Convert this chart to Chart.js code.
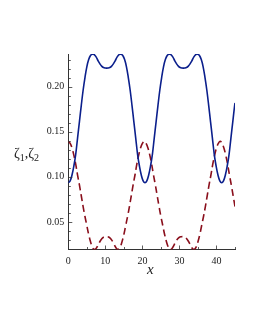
<!DOCTYPE html>
<html>
<head>
<meta charset="utf-8">
<script src="https://cdn.jsdelivr.net/npm/chart.js@4/dist/chart.umd.min.js"></script>
<style>
  html, body { margin: 0; padding: 0; background: #fff; }
  #wrap { position: relative; width: 255px; height: 330px; }
  canvas { position: absolute; left: 0; top: 0; }
  .lbl { position: absolute; font-family: "Liberation Serif", "DejaVu Serif", serif; color: #222; white-space: nowrap; }
  #ylab { left: 14px; top: 146px; font-size: 14px; }
  #ylab sub { font-size: 10px; vertical-align: -3px; line-height: 0; }
  #xlab { left: 147px; top: 261px; font-size: 15px; font-style: italic; }
</style>
</head>
<body>
<div id="wrap">
  <canvas id="c" width="255" height="330"></canvas>
  <div class="lbl" id="ylab">ζ<sub>1</sub>,ζ<sub>2</sub></div>
  <div class="lbl" id="xlab">x</div>
</div>
<script>
// zeta_1 (solid blue) sample positions and values
const xBlue = [0,0.5,1,1.5,2,2.5,3,3.5,4,4.5,5,5.5,6,6.5,7,7.5,8,8.5,9,9.5,10,10.35,
  10.7,11.2,11.7,12.2,12.7,13.2,13.7,14.2,14.7,15.2,15.7,16.2,16.7,17.2,17.7,18.2,18.7,19.2,19.7,20.2,20.7,
  21.2,21.7,22.2,22.7,23.2,23.7,24.2,24.7,25.2,25.7,26.2,26.7,27.2,27.7,28.2,28.7,29.2,29.7,30.2,30.7,31.05,
  31.4,31.9,32.4,32.9,33.4,33.9,34.4,34.9,35.4,35.9,36.4,36.9,37.4,37.9,38.4,38.9,39.4,39.9,40.4,40.9,41.4,
  41.9,42.4,42.9,43.4,43.9,44.4,44.9,45];
const zeta1 = [0.0934,0.0955,0.102,0.112,0.125,0.143,0.161,0.179,0.196,0.210,0.222,0.230,0.2345,0.236,0.2355,0.233,0.229,0.2255,0.2228,0.2212,0.2206,0.2205,
  0.2206,0.2212,0.2228,0.2255,0.229,0.233,0.2355,0.236,0.2345,0.230,0.222,0.210,0.196,0.179,0.161,0.143,0.125,0.112,0.102,0.0955,0.0934,
  0.0955,0.102,0.112,0.125,0.143,0.161,0.179,0.196,0.210,0.222,0.230,0.2345,0.236,0.2355,0.233,0.229,0.2255,0.2228,0.2212,0.2206,0.2205,
  0.2206,0.2212,0.2228,0.2255,0.229,0.233,0.2355,0.236,0.2345,0.230,0.222,0.210,0.196,0.179,0.161,0.143,0.125,0.112,0.102,0.0955,0.0934,
  0.0955,0.102,0.112,0.125,0.143,0.161,0.179,0.182];

// zeta_2 (dashed red) sample positions and values
const xRed = [0,0.5,1,1.5,2,2.5,3,3.5,4,4.5,5,5.5,6,6.5,7,7.5,8,8.5,9,9.5,10,10.25,
  10.5,11,11.5,12,12.5,13,13.5,14,14.5,15,15.5,16,16.5,17,17.5,18,18.5,19,19.5,20,20.5,
  21,21.5,22,22.5,23,23.5,24,24.5,25,25.5,26,26.5,27,27.5,28,28.5,29,29.5,30,30.5,30.75,
  31,31.5,32,32.5,33,33.5,34,34.5,35,35.5,36,36.5,37,37.5,38,38.5,39,39.5,40,40.5,41,
  41.5,42,42.5,43,43.5,44,44.5,45];
const zeta2 = [0.1395,0.137,0.132,0.124,0.114,0.102,0.091,0.079,0.067,0.056,0.046,0.036,0.028,0.022,0.0195,0.0205,0.024,0.028,0.031,0.033,0.0336,0.0337,
  0.0336,0.033,0.031,0.028,0.024,0.0205,0.0195,0.022,0.028,0.036,0.046,0.056,0.067,0.079,0.091,0.102,0.114,0.124,0.132,0.137,0.1395,
  0.137,0.132,0.124,0.114,0.102,0.091,0.079,0.067,0.056,0.046,0.036,0.028,0.022,0.0195,0.0205,0.024,0.028,0.031,0.033,0.0336,0.0337,
  0.0336,0.033,0.031,0.028,0.024,0.0205,0.0195,0.022,0.028,0.036,0.046,0.056,0.067,0.079,0.091,0.102,0.114,0.124,0.132,0.137,0.1395,
  0.137,0.132,0.124,0.114,0.102,0.091,0.079,0.067];

const xTicks = [0, 10, 20, 30, 40];
const yTicks = [0.05, 0.10, 0.15, 0.20];
const xMinorTicks = [5, 15, 25, 35, 45];
const yMinorTicks = [0.02,0.03,0.04,0.06,0.07,0.08,0.09,0.11,0.12,0.13,0.14,0.16,0.17,0.18,0.19,0.21,0.22,0.23];

const toPts = (xs, ys) => xs.map((x, i) => ({ x: x, y: ys[i] }));

const AXIS_COLOR = '#333';
const FONT = { family: '"Liberation Serif", "DejaVu Serif", serif', size: 10 };

const tickMarks = {
  id: 'tickMarks',
  afterDraw(chart) {
    const ctx = chart.ctx, xs = chart.scales.x, ys = chart.scales.y;
    ctx.save();
    ctx.strokeStyle = AXIS_COLOR;
    ctx.lineWidth = 0.8;
    ctx.beginPath();
    const L = xs.left, B = ys.bottom;
    yTicks.forEach(v => { const p = Math.round(ys.getPixelForValue(v)) + 0.5; ctx.moveTo(L, p); ctx.lineTo(L + 4, p); });
    yMinorTicks.forEach(v => { const p = Math.round(ys.getPixelForValue(v)) + 0.5; ctx.moveTo(L, p); ctx.lineTo(L + 2.5, p); });
    xTicks.forEach(v => { const p = Math.round(xs.getPixelForValue(v)) + 0.5; ctx.moveTo(p, B); ctx.lineTo(p, B - 4); });
    xMinorTicks.forEach(v => { const p = Math.round(xs.getPixelForValue(v)) + 0.5; ctx.moveTo(p, B); ctx.lineTo(p, B - 2.5); });
    ctx.stroke();
    ctx.restore();
  }
};

new Chart(document.getElementById('c'), {
  type: 'line',
  data: {
    datasets: [
      { label: 'ζ1', data: toPts(xBlue, zeta1), borderColor: '#0b1f8c', borderWidth: 1.6, pointRadius: 0, tension: 0.4, fill: false },
      { label: 'ζ2', data: toPts(xRed, zeta2), borderColor: '#8a0f1c', borderWidth: 1.6, borderDash: [7, 4], pointRadius: 0, tension: 0.4, fill: false }
    ]
  },
  options: {
    responsive: false,
    animation: false,
    devicePixelRatio: 1,
    layout: { padding: { left: 0, top: 54, right: 20, bottom: 0 } },
    plugins: { legend: { display: false }, tooltip: { enabled: false } },
    scales: {
      x: {
        type: 'linear', min: 0, max: 45,
        afterBuildTicks: s => { s.ticks = xTicks.map(v => ({ value: v })); },
        afterFit: s => { s.height = 80.5; },
        grid: { display: true, drawOnChartArea: false, drawTicks: false },
        border: { display: true, color: AXIS_COLOR, width: 1 },
        ticks: { color: '#222', font: FONT, padding: 6, maxRotation: 0, callback: v => String(v) }
      },
      y: {
        type: 'linear', min: 0.0194, max: 0.2362,
        afterBuildTicks: s => { s.ticks = yTicks.map(v => ({ value: v })); },
        afterFit: s => { s.width = 68.3; },
        grid: { display: true, drawOnChartArea: false, drawTicks: false },
        border: { display: true, color: AXIS_COLOR, width: 1 },
        ticks: { color: '#222', font: FONT, padding: 4, callback: v => v.toFixed(2) }
      }
    }
  },
  plugins: [tickMarks]
});
</script>
</body>
</html>
